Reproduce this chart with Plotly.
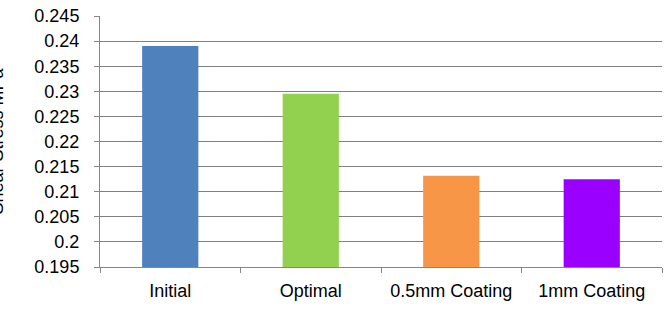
import plotly.graph_objects as go

categories = ["Initial", "Optimal", "0.5mm Coating", "1mm Coating"]
values = [0.2390, 0.2295, 0.2132, 0.2125]
colors = ["#4F81BD", "#92D050", "#F79646", "#9900FF"]
y_ticks = [0.195, 0.2, 0.205, 0.21, 0.215, 0.22, 0.225, 0.23, 0.235, 0.24, 0.245]
y_tick_labels = ["0.195", "0.2", "0.205", "0.21", "0.215", "0.22", "0.225", "0.23", "0.235", "0.24", "0.245"]
y_title = "Shear Stress MPa"

W, H = 668, 310
ml, mr, mt, mb = 100, 6, 10, 43
font = "Liberation Sans, Arial, sans-serif"
fs = 18

fig = go.Figure(go.Bar(
    x=categories, y=values,
    marker=dict(color=colors, line=dict(width=0)),
    width=0.4,
))

fig.update_layout(
    width=W, height=H,
    margin=dict(l=ml, r=mr, t=mt, b=mb),
    paper_bgcolor="white", plot_bgcolor="white",
    showlegend=False,
    font=dict(family=font, size=fs, color="black"),
)
fig.update_xaxes(
    showline=True, linecolor="#868686", linewidth=1,
    ticks="outside", ticklen=5, tickcolor="#868686", tickson="boundaries",
    showgrid=False, ticklabelstandoff=7,
    tickfont=dict(family=font, size=fs, color="black"),
)
fig.update_yaxes(
    range=[0.195, 0.245],
    tickvals=y_ticks, ticktext=y_tick_labels,
    showline=True, linecolor="#868686", linewidth=1,
    ticks="outside", ticklen=5, tickcolor="#868686",
    showgrid=True, gridcolor="#7F7F7F", gridwidth=1,
    zeroline=False, ticklabelstandoff=11,
    tickfont=dict(family=font, size=fs, color="black"),
)
fig.add_annotation(
    text=y_title, textangle=-90,
    xref="paper", yref="paper",
    x=(-4 - ml) / (W - ml - mr), y=0.5,
    xanchor="center", yanchor="middle",
    showarrow=False,
    font=dict(family=font, size=fs, color="black"),
)

fig.write_html("out.html")
